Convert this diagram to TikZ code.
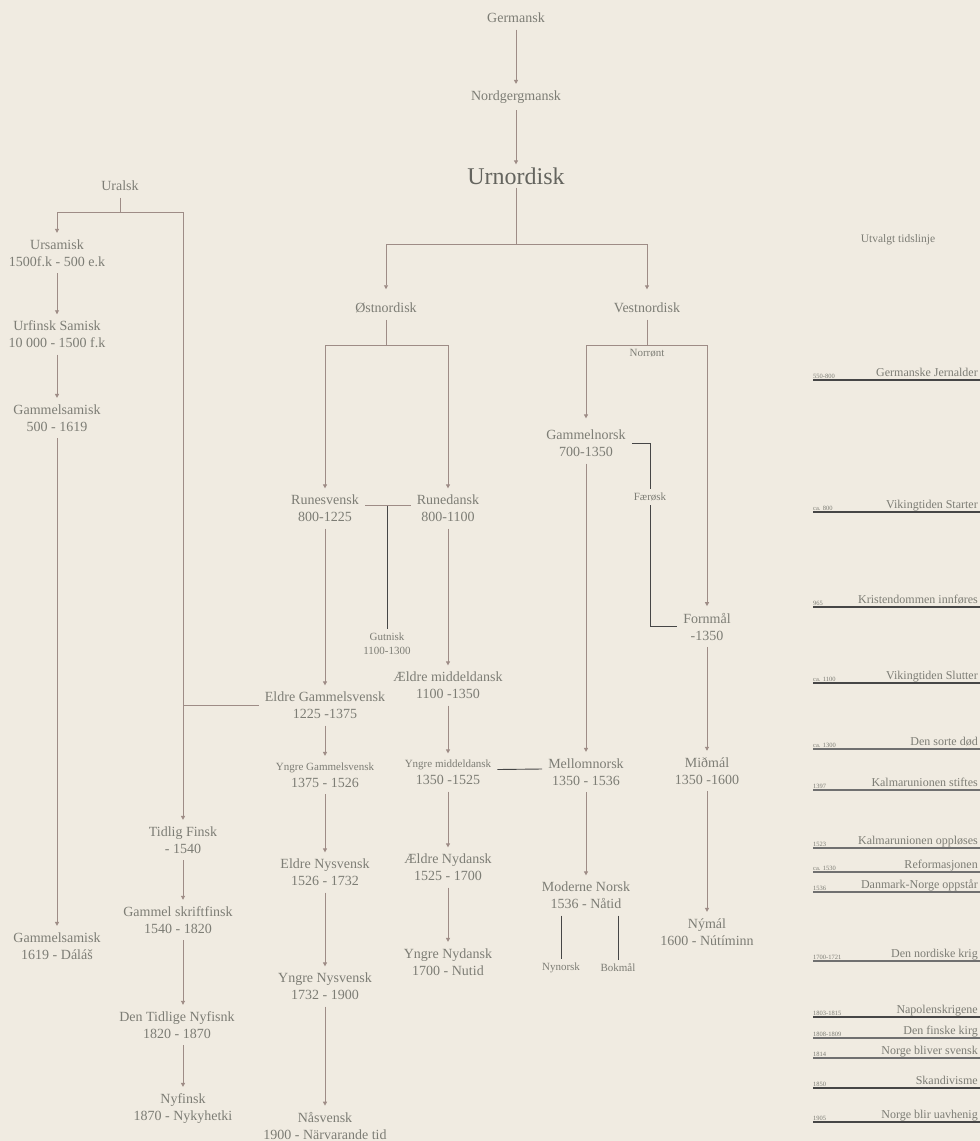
\documentclass[tikz,border=0pt]{standalone}
\usepackage{fontspec}
\setmainfont{Liberation Serif}
\usetikzlibrary{arrows.meta,calc}
\definecolor{papir}{RGB}{240,235,225}
\definecolor{tekst}{RGB}{125,125,117}
\definecolor{strek}{RGB}{158,140,134}
\definecolor{mork}{RGB}{70,70,70}
\definecolor{graa}{RGB}{112,112,112}

\begin{document}
\begin{tikzpicture}[x=1pt,y=-1pt,
  sprak/.style={text=tekst,font=\fontsize{14}{17}\selectfont,align=center,inner xsep=6pt,inner ysep=6.5pt},
  liten/.style={text=tekst,font=\fontsize{11}{14}\selectfont,align=center,inner xsep=3pt,inner ysep=4pt},
  pil/.style={draw=strek,line width=0.9pt,-{Triangle[length=4pt,width=4pt]}},
  linje/.style={draw=strek,line width=0.9pt},
  morklinje/.style={draw=mork,line width=0.9pt}]
\useasboundingbox (0,0) rectangle (980,1141);
\fill[papir] (0,0) rectangle (980,1141);

% germansk
\node[sprak] (ger) at (516,18) {Germansk};
\node[sprak] (nor) at (516,97) {Nordgergmansk};
\node[sprak,font=\fontsize{24}{29}\selectfont,text=tekst!80!black,inner ysep=3pt] (urn) at (516,176) {Urnordisk};
\draw[pil] (ger.south) -- (nor.north);
\draw[pil] (nor.south) -- (urn.north);

\node[sprak] (ost) at (386,308) {Østnordisk};
\node[sprak] (vest) at (647,308) {Vestnordisk};
\coordinate (urnsplit) at (516,244);
\draw[linje] (urn.south) -- (urnsplit);
\draw[pil,shorten >=7pt] (urnsplit) -| (ost.north);
\draw[pil,shorten >=7pt] (urnsplit) -| (vest.north);

% østnordisk
\node[sprak] (rsv) at (325,508.5) {Runesvensk\\800-1225};
\node[sprak] (rdk) at (448,508.5) {Runedansk\\800-1100};
\node[liten] (gut) at (387,644) {Gutnisk\\1100-1300};
\coordinate (ostsplit) at (386,345);
\draw[linje] (ost.south) -- (ostsplit);
\draw[pil] (ostsplit) -| (rsv.north);
\draw[pil] (ostsplit) -| (rdk.north);
\draw[linje] ([yshift=3pt]rsv.east) -- ([yshift=3pt]rdk.west);
\coordinate (gutsplit) at ($([yshift=3pt]rsv.east)!.5!([yshift=3pt]rdk.west)$);
\draw[morklinje] (gutsplit) -- (gutsplit |- gut.north);

\node[sprak] (egs) at (325,705.5) {Eldre Gammelsvensk\\1225 -1375};
\node[sprak] (ygs) at (325,775) {{\fontsize{11}{14}\selectfont Yngre Gammelsvensk}\\1375 - 1526};
\node[sprak] (ens) at (325,872.5) {Eldre Nysvensk\\1526 - 1732};
\node[sprak] (yns) at (325,986.5) {Yngre Nysvensk\\1732 - 1900};
\node[sprak] (nsv) at (325,1126) {Nåsvensk\\1900 - Närvarande tid};
\draw[pil] (rsv.south) -- (egs.north);
\draw[pil] (egs.south) -- (ygs.north);
\draw[pil] (ygs.south) -- (ens.north);
\draw[pil] (ens.south) -- (yns.north);
\draw[pil] (yns.south) -- (nsv.north);

\node[sprak] (emd) at (448,685.5) {Ældre middeldansk\\1100 -1350};
\node[sprak] (ymd) at (448,772.5) {{\fontsize{11}{14}\selectfont Yngre middeldansk}\\1350 -1525};
\node[sprak] (eny) at (448,867.5) {Ældre Nydansk\\1525 - 1700};
\node[sprak] (ynd) at (448,962) {Yngre Nydansk\\1700 - Nutid};
\draw[pil] (rdk.south) -- (emd.north);
\draw[pil] (emd.south) -- (ymd.north);
\draw[pil] (ymd.south) -- (eny.north);
\draw[pil] (eny.south) -- (ynd.north);

% vestnordisk
\node[liten] (norr) at (647,353) {Norrønt};
\node[sprak] (gno) at (586,443.5) {Gammelnorsk\\700-1350};
\node[liten] (fae) at (650,497) {Færøsk};
\node[sprak] (fmal) at (707,626.5) {Fornmål\\-1350};
\coordinate (vestsplit) at (647,345);
\draw[linje] (vest.south) -- (vestsplit);
\draw[pil,shorten >=5pt] (vestsplit) -| (gno.north);
\draw[pil] (vestsplit) -| (fmal.north);
\draw[morklinje] (gno.east) -| (fae.north);
\draw[morklinje] (fae.south) |- (fmal.west);

\node[sprak] (mno) at (586,772) {Mellomnorsk\\1350 - 1536};
\node[sprak] (mod) at (586,895.5) {Moderne Norsk\\1536 - Nåtid};
\node[liten] (nyn) at (561,968) {Nynorsk};
\node[liten] (bok) at (618,968) {Bokmål};
\node[sprak] (mid) at (707,771) {Miðmál\\1350 -1600};
\node[sprak] (nym) at (707,932) {Nýmál\\1600 - Nútíminn};
\draw[pil] (gno.south) -- (mno.north);
\draw[pil] (mno.south) -- (mod.north);
\draw[morklinje] (nyn.north |- mod.south) -- (nyn.north);
\draw[morklinje] (bok.north |- mod.south) -- (bok.north);
\draw[pil] (fmal.south) -- (mid.north);
\draw[pil] (mid.south) -- (nym.north);
\draw[morklinje] ([yshift=3pt]ymd.east) -- ([yshift=3pt]mno.west);

% uralsk
\node[sprak] (ura) at (120,186) {Uralsk};
\node[sprak] (usa) at (57,253) {Ursamisk\\1500f.k - 500 e.k};
\node[sprak] (ufs) at (57,334.5) {Urfinsk Samisk\\10 000 - 1500 f.k};
\node[sprak] (gsa) at (57,418) {Gammelsamisk\\500 - 1619};
\node[sprak] (gsb) at (57,946) {Gammelsamisk\\1619 - Dáláš};
\node[sprak] (tfi) at (183,840) {Tidlig Finsk\\- 1540};
\node[sprak] (gsf) at (178,920) {Gammel skriftfinsk\\1540 - 1820};
\node[sprak] (dtn) at (177,1025) {Den Tidlige Nyfisnk\\1820 - 1870};
\node[sprak] (nyf) at (183,1108.5) {Nyfinsk\\1870 - Nykyhetki};
\coordinate (urasplit) at (120,212);
\draw[linje] (ura.south) -- (urasplit);
\draw[pil] (urasplit) -| (usa.north);
\draw[pil] (urasplit) -| (tfi.north);
\draw[pil] (usa.south) -- (ufs.north);
\draw[pil] (ufs.south) -- (gsa.north);
\draw[pil] (gsa.south) -- (gsb.north);
\draw[linje] (egs.west) -- (egs.west -| tfi.north);
\draw[pil] (tfi.south) -- (tfi.south |- gsf.north);
\draw[pil] (gsf.south -| tfi) -- (dtn.north -| tfi);
\draw[pil] (dtn.south -| tfi) -- (nyf.north -| tfi);

% tidslinje
\node[text=tekst,font=\fontsize{11.5}{14}\selectfont] (tids) at (898,240) {Utvalgt tidslinje};
\foreach \y/\aar/\navn/\farge in {380/550-800/Germanske Jernalder/mork,
    512/ca. 800/Vikingtiden Starter/mork,
    607/965/Kristendommen innføres/mork,
    683/ca. 1100/Vikingtiden Slutter/mork,
    749/ca. 1300/Den sorte død/graa,
    790/1397/Kalmarunionen stiftes/graa,
    848/1523/Kalmarunionen oppløses/graa,
    872/ca. 1530/Reformasjonen/graa,
    892/1536/Danmark-Norge oppstår/graa,
    961/1700-1721/Den nordiske krig/graa,
    1017/1803-1815/Napolenskrigene/mork,
    1038/1808-1809/Den finske kirg/graa,
    1058/1814/Norge bliver svensk/graa,
    1088/1850/Skandivisme/mork,
    1122/1905/Norge blir uavhenig/mork}
{
  \draw[\farge,line width=1.1pt] (813,\y) -- (980,\y);
  \node[anchor=base east,inner sep=1pt,text=tekst,font=\fontsize{12}{14}\selectfont] (hend\y) at (979,\y-4) {\navn};
  \node[anchor=base west,inner sep=0pt,text=tekst,font=\fontsize{6.5}{7}\selectfont] (aar\y) at (813,\y-2) {\aar};
}
\end{tikzpicture}
\end{document}
